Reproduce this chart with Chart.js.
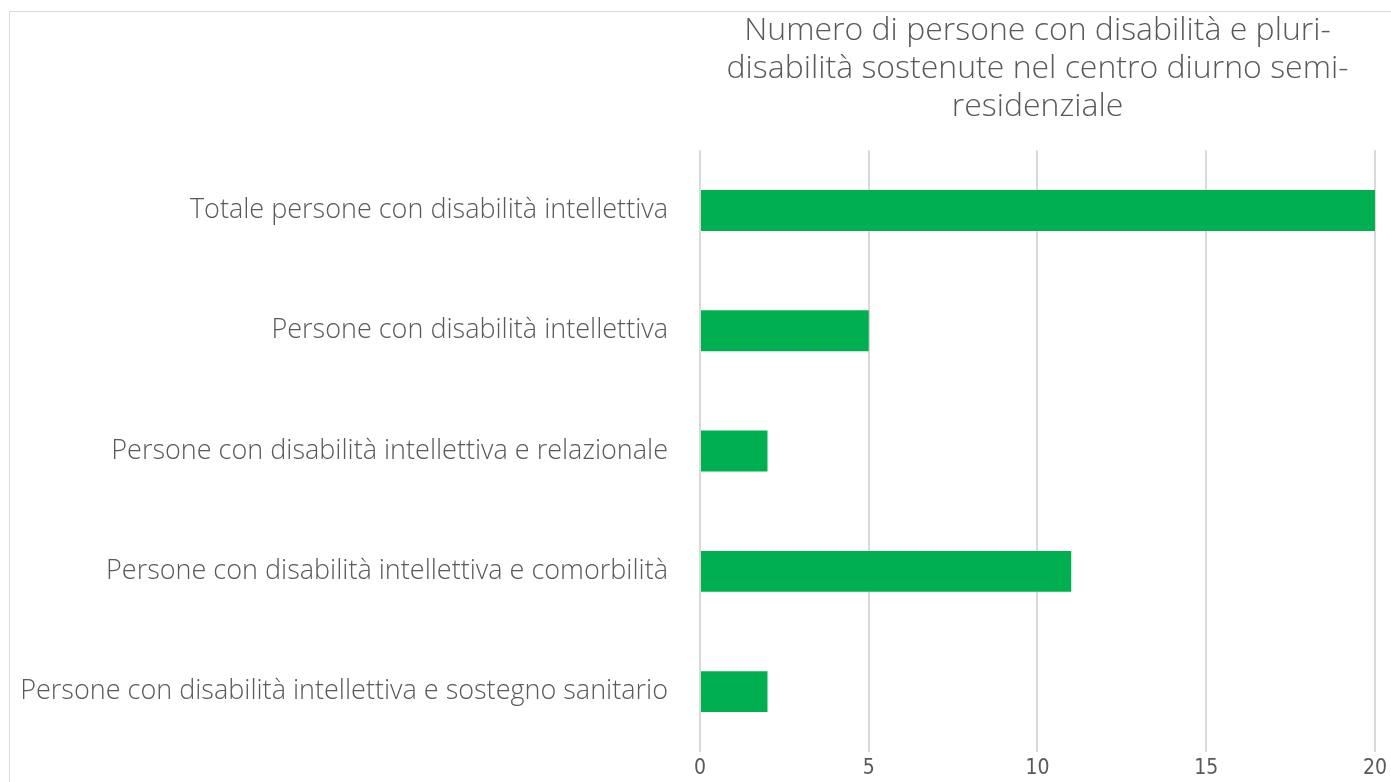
<!DOCTYPE html>
<html>
<head>
<meta charset="utf-8">
<script src="https://cdn.jsdelivr.net/npm/chart.js@4/dist/chart.umd.min.js"></script>
<style>
  html, body { margin: 0; padding: 0; background: #fff; overflow: hidden; width: 1391px; height: 782px; }
  #frame { position: absolute; left: 9px; top: 11px; width: 1420px; height: 820px;
           border-left: 1px solid #d9d9d9; border-top: 1px solid #d9d9d9; }
  #box { position: absolute; left: 0px; top: 0px; width: 1381px; height: 788px; }
</style>
</head>
<body>
<div id="frame">
  <div id="box"><canvas id="myChart"></canvas></div>
</div>
<script>
// categories (top to bottom) and counts
var categories = [
  "Totale persone con disabilità intellettiva",
  "Persone con disabilità intellettiva",
  "Persone con disabilità intellettiva e relazionale",
  "Persone con disabilità intellettiva e comorbilità",
  "Persone con disabilità intellettiva e sostegno sanitario"
];
var persone = [20, 5, 2, 11, 2];
var xTicks = [0, 5, 10, 15, 20];
var titleLines = [
  "Numero di persone con disabilità e pluri-",
  "disabilità sostenute nel centro diurno semi-",
  "residenziale"
];

var grey = '#595959';
var ctx = document.getElementById('myChart');

var myChart = new Chart(ctx, {
  type: 'bar',
  data: {
    labels: categories,
    datasets: [{
      label: 'Persone',
      data: persone,
      backgroundColor: '#00B050',
      borderWidth: 0,
      barPercentage: 0.34,
      categoryPercentage: 1
    }]
  },
  options: {
    indexAxis: 'y',
    responsive: true,
    maintainAspectRatio: false,
    animation: false,
    layout: { padding: 0 },
    plugins: {
      legend: { display: false },
      tooltip: { enabled: false },
      title: {
        display: true,
        fullSize: false,
        text: titleLines,
        color: grey,
        font: { family: 'Open Sans', size: 32, weight: 300, lineHeight: 1.18 },
        padding: { top: 0, bottom: 25 }
      }
    },
    scales: {
      x: {
        min: 0,
        max: 20,
        afterBuildTicks: function(scale) {
          scale.ticks = xTicks.map(function(v) { return { value: v }; });
        },
        grid: { color: '#d9d9d9', lineWidth: 2, drawTicks: false },
        border: { display: false },
        ticks: {
          color: grey,
          padding: 4,
          font: { family: 'Liberation Sans Narrow, DejaVu Sans Condensed, sans-serif', size: 21 }
        }
      },
      y: {
        afterFit: function(scale) { scale.width = 690; },
        grid: { display: false, drawTicks: false },
        border: { display: false },
        ticks: {
          color: grey,
          padding: 32,
          font: { family: 'Open Sans', size: 27, weight: 300 }
        }
      }
    }
  }
});
</script>
</body>
</html>
